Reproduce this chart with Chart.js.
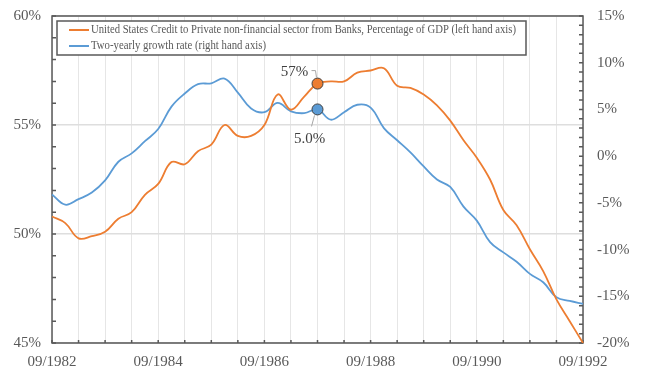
<!DOCTYPE html>
<html>
<head>
<meta charset="utf-8">
<title>US bank credit to private non-financial sector</title>
<script src="https://cdn.jsdelivr.net/npm/chart.js@4/dist/chart.umd.min.js"></script>
<style>
  html,body{margin:0;padding:0;background:#fff;}
  #wrap{width:646px;height:378px;}
</style>
</head>
<body>
<div id="wrap"><canvas id="c" width="646" height="378"></canvas></div>
<script>
'use strict';

/* ---------- Daten (quartalsweise) ---------- */
const QUARTERS = ['09/1982','12/1982','03/1983','06/1983','09/1983','12/1983','03/1984','06/1984',
  '09/1984','12/1984','03/1985','06/1985','09/1985','12/1985','03/1986','06/1986',
  '09/1986','12/1986','03/1987','06/1987','09/1987','12/1987','03/1988','06/1988',
  '09/1988','12/1988','03/1989','06/1989','09/1989','12/1989','03/1990','06/1990',
  '09/1990','12/1990','03/1991','06/1991','09/1991','12/1991','03/1992','06/1992','09/1992'];
const CREDIT_GDP = [50.8,50.5,49.8,49.9,50.1,50.7,51.0,51.8,52.3,53.3,53.2,53.8,54.1,55.0,54.5,54.5,
  55.0,56.4,55.7,56.3,56.9,57.0,57.0,57.4,57.5,57.6,56.8,56.7,56.4,55.9,55.2,54.3,
  53.5,52.5,51.1,50.4,49.3,48.3,47.0,46.0,45.0];
const GROWTH_2Y = [-4.1,-5.2,-4.6,-3.9,-2.6,-0.6,0.3,1.6,2.9,5.3,6.7,7.7,7.8,8.3,6.8,5.1,
  4.7,5.7,4.8,4.6,5.0,3.9,4.7,5.5,5.2,3.0,1.7,0.4,-1.1,-2.5,-3.3,-5.4,
  -6.9,-9.2,-10.3,-11.3,-12.6,-13.5,-15.1,-15.5,-15.8];
const LEGEND = ['United States Credit to Private non-financial sector from Banks, Percentage of GDP (left hand axis)',
  'Two-yearly growth rate (right hand axis)'];
const LEFT_TICKS = [45,50,55,60];
const RIGHT_TICKS = [-20,-15,-10,-5,0,5,10,15];
const MARK_IDX = 20;                 // 09/1987
const MARK_TEXT = ['57%','5.0%'];

const ORANGE='#ED7D31', BLUE='#5B9BD5', AXIS='#595959', GRID='#e6e6e6';
const SERIF="'Liberation Serif','Times New Roman',serif";

/* ---------- Rahmen, Innen-Ticks, Legende, Beschriftungen ---------- */
const frame = {
  id:'frame',
  beforeDatasetsDraw(ch){
    const {ctx, chartArea:a, scales:s} = ch;
    ctx.save();
    ctx.strokeStyle=AXIS; ctx.lineWidth=1.5;
    ctx.beginPath();
    for(let v=45; v<=60; v++){ const y=s.y.getPixelForValue(v); ctx.moveTo(a.left,y); ctx.lineTo(a.left+4,y); }
    for(let v=-20; v<=15; v++){ const y=s.y1.getPixelForValue(v); ctx.moveTo(a.right-4,y); ctx.lineTo(a.right,y); }
    for(let i=0; i<QUARTERS.length; i+=2){ const x=s.x.getPixelForValue(i); ctx.moveTo(x,a.bottom); ctx.lineTo(x,a.bottom-3); }
    ctx.stroke();
    ctx.lineWidth=1.5;
    ctx.strokeRect(a.left,a.top,a.right-a.left,a.bottom-a.top);
    ctx.restore();
  },
  afterDatasetsDraw(ch){
    const {ctx, chartArea:a} = ch;
    ctx.save();
    // Legende im Diagramm
    const lx=a.left+5, ly=a.top+5, lw=469, lh=34;
    ctx.fillStyle='#fff'; ctx.fillRect(lx,ly,lw,lh);
    ctx.strokeStyle=AXIS; ctx.lineWidth=1.5; ctx.strokeRect(lx,ly,lw,lh);
    ctx.font='12px '+SERIF; ctx.textBaseline='middle'; ctx.textAlign='left';
    [[ORANGE,LEGEND[0],425],[BLUE,LEGEND[1],175]].forEach(([c,t,w],k)=>{
      const y=ly+9+k*16;
      ctx.strokeStyle=c; ctx.lineWidth=2;
      ctx.beginPath(); ctx.moveTo(lx+12,y); ctx.lineTo(lx+32,y); ctx.stroke();
      ctx.fillStyle=AXIS; ctx.fillText(t,lx+34,y,w);
    });
    // Wertbeschriftungen mit Führungslinien
    const po=ch.getDatasetMeta(0).data[MARK_IDX], pb=ch.getDatasetMeta(1).data[MARK_IDX];
    ctx.strokeStyle='#a6a6a6'; ctx.lineWidth=1;
    ctx.beginPath();
    ctx.moveTo(po.x-6,po.y-13); ctx.lineTo(po.x-2,po.y-13); ctx.lineTo(po.x-1,po.y-6);
    ctx.moveTo(pb.x-3,pb.y+6); ctx.lineTo(pb.x-6,pb.y+17);
    ctx.stroke();
    ctx.font='15px '+SERIF; ctx.fillStyle='#404040'; ctx.textAlign='center';
    ctx.fillText(MARK_TEXT[0],po.x-23,po.y-12);
    ctx.fillText(MARK_TEXT[1],pb.x-8,pb.y+30);
    ctx.restore();
  }
};

const markRadius = (c)=> c.dataIndex===MARK_IDX ? 5.5 : 0;
const ds = (label,data,color,axis)=>({ label, data, yAxisID:axis, borderColor:color, backgroundColor:color,
  borderWidth:1.8, tension:0.4, pointRadius:markRadius, pointHoverRadius:0,
  pointBackgroundColor:color, pointBorderColor:'#404040', pointBorderWidth:1 });

// feste Achsenbreite, ohne Zusatzabstand oben/unten durch Beschriftungen
const fixY = (w)=>(s)=>{ s.width=w; s.paddingTop=0; s.paddingBottom=0; };

new Chart(document.getElementById('c'), {
  type:'line',
  data:{ labels:QUARTERS, datasets:[
    ds(LEGEND[0],CREDIT_GDP,ORANGE,'y'),
    ds(LEGEND[1],GROWTH_2Y,BLUE,'y1')
  ]},
  options:{
    responsive:false, animation:false, devicePixelRatio:1,
    layout:{ padding:{ top:16, right:0, bottom:0, left:0 } },
    plugins:{ legend:{display:false}, tooltip:{enabled:false} },
    scales:{
      x:{ offset:false,
        grid:{ color:(c)=> c.index%2===0 ? GRID : 'transparent', lineWidth:1, drawTicks:false },
        border:{ display:false },
        ticks:{ autoSkip:false, maxRotation:0, minRotation:0, padding:10, color:AXIS,
          font:{ family:SERIF, size:15 },
          callback:(v,i)=> i%8===0 ? QUARTERS[i] : '' },
        afterFit:(s)=>{ s.height=35; } },
      y:{ position:'left', min:45, max:60,
        afterBuildTicks:(s)=>{ s.ticks=LEFT_TICKS.map(v=>({value:v})); },
        grid:{ color:'#dedede', lineWidth:1.5, drawTicks:false },
        border:{ display:false },
        ticks:{ padding:11, color:AXIS, font:{ family:SERIF, size:15 }, callback:(v)=>v+'%' },
        afterFit:fixY(52) },
      y1:{ position:'right', min:-20, max:15,
        afterBuildTicks:(s)=>{ s.ticks=RIGHT_TICKS.map(v=>({value:v})); },
        grid:{ drawOnChartArea:false, drawTicks:false },
        border:{ display:false },
        ticks:{ padding:14, color:AXIS, font:{ family:SERIF, size:15 }, callback:(v)=>v+'%' },
        afterFit:fixY(63) }
    }
  },
  plugins:[frame]
});
</script>
</body>
</html>
